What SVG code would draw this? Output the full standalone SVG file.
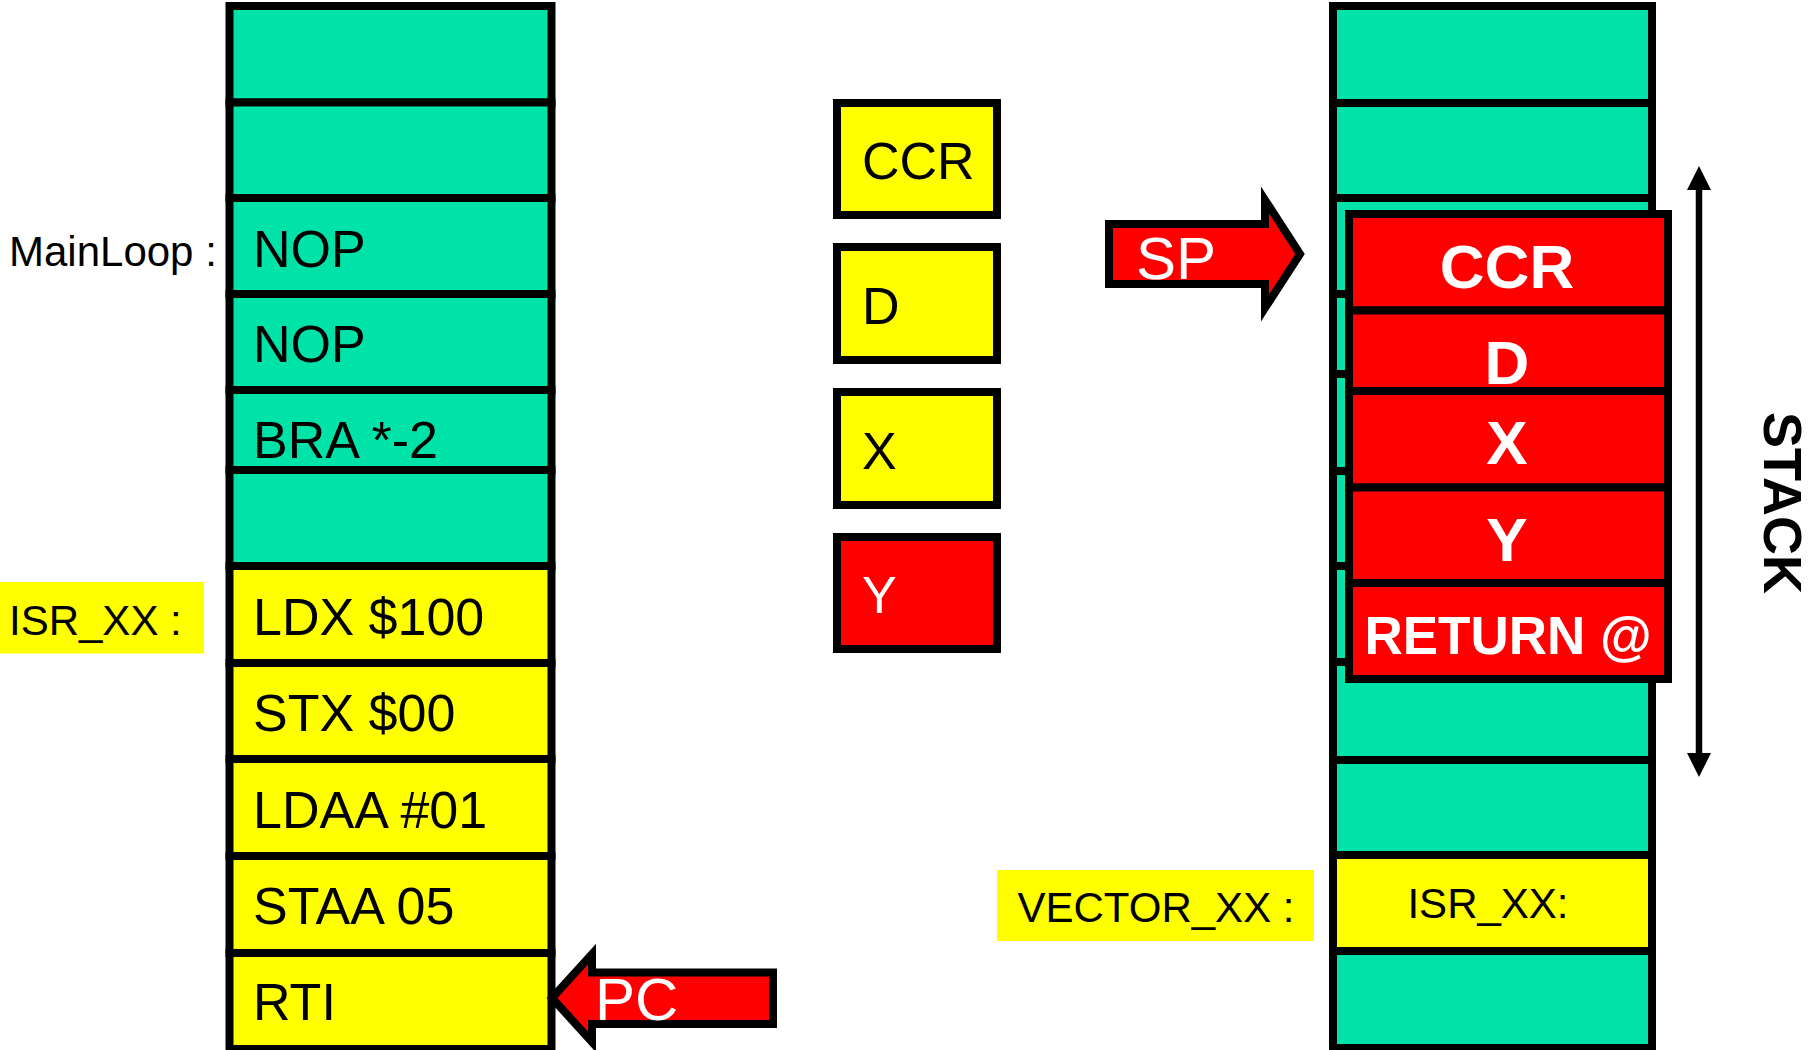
<svg xmlns="http://www.w3.org/2000/svg" width="1814" height="1050" viewBox="0 0 1814 1050">
<style>
text{font-family:"Liberation Sans",Arial,Helvetica,sans-serif;}
.g{fill:#00E3A8;stroke:#000;stroke-width:8;}
.y{fill:#FFFF00;stroke:#000;stroke-width:8;}
.r{fill:#FF0000;stroke:#000;stroke-width:8;}
.code{font-size:52px;fill:#000;}
.lbl{font-size:42px;fill:#000;}
.reg{font-size:52px;fill:#000;}
.stk{font-size:62px;font-weight:bold;fill:#fff;text-anchor:middle;}
.arw{fill:#FF0000;stroke:#000;stroke-width:8;stroke-linejoin:miter;stroke-miterlimit:10;}
.ptxt{font-size:60px;fill:#fff;}
</style>

<g id="program-memory">
  <rect class="g" x="229.5" y="6" width="322" height="96.5"/>
  <rect class="g" x="229.5" y="102.5" width="322" height="95.5"/>
  <rect class="g" x="229.5" y="198" width="322" height="96"/>
  <rect class="g" x="229.5" y="294" width="322" height="96"/>
  <rect class="g" x="229.5" y="390" width="322" height="80"/>
  <rect class="g" x="229.5" y="470" width="322" height="96"/>
  <rect class="y" x="229.5" y="566" width="322" height="97"/>
  <rect class="y" x="229.5" y="663" width="322" height="96"/>
  <rect class="y" x="229.5" y="759" width="322" height="97"/>
  <rect class="y" x="229.5" y="856" width="322" height="97"/>
  <rect class="y" x="229.5" y="953" width="322" height="96"/>
  <text class="code" x="253" y="267">NOP</text>
  <text class="code" x="253" y="362">NOP</text>
  <text class="code" x="253" y="458">BRA *-2</text>
  <text class="code" x="253" y="635">LDX $100</text>
  <text class="code" x="253" y="731">STX $00</text>
  <text class="code" x="253" y="828">LDAA #01</text>
  <text class="code" x="253" y="924">STAA 05</text>
  <text class="code" x="253" y="1020">RTI</text>
</g>

<g id="label-mainloop">
  <text class="lbl" x="9" y="266">MainLoop :</text>
</g>

<g id="label-isr">
  <rect x="0" y="582" width="204" height="71.5" fill="#FFFF00"/>
  <text class="lbl" x="9" y="634.5">ISR_XX :</text>
</g>

<g id="reg-ccr">
  <rect class="y" x="837" y="103" width="160" height="112"/>
  <text class="reg" x="862" y="179">CCR</text>
</g>
<g id="reg-d">
  <rect class="y" x="837" y="247" width="160" height="113"/>
  <text class="reg" x="862" y="323.5">D</text>
</g>
<g id="reg-x">
  <rect class="y" x="837" y="392" width="160" height="113"/>
  <text class="reg" x="862" y="468.5">X</text>
</g>
<g id="reg-y">
  <rect class="r" x="837" y="537" width="160" height="112"/>
  <text class="reg" x="862" y="613" style="fill:#fff">Y</text>
</g>

<g id="stack-memory">
  <rect class="g" x="1333" y="6" width="319" height="97"/>
  <rect class="g" x="1333" y="103" width="319" height="95"/>
  <rect class="g" x="1333" y="198" width="319" height="96"/>
  <rect class="g" x="1333" y="294" width="319" height="80"/>
  <rect class="g" x="1333" y="374" width="319" height="97"/>
  <rect class="g" x="1333" y="471" width="319" height="95"/>
  <rect class="g" x="1333" y="566" width="319" height="96"/>
  <rect class="g" x="1333" y="662" width="319" height="98"/>
  <rect class="g" x="1333" y="760" width="319" height="95"/>
  <rect class="y" x="1333" y="855" width="319" height="96"/>
  <rect class="g" x="1333" y="951" width="319" height="97"/>
  <text class="lbl" x="1488" y="918" text-anchor="middle">ISR_XX:</text>
</g>

<g id="stacked-registers">
  <rect class="r" x="1349" y="214" width="319" height="96.5"/>
  <rect class="r" x="1349" y="310.5" width="319" height="80.5"/>
  <rect class="r" x="1349" y="391" width="319" height="96.5"/>
  <rect class="r" x="1349" y="487.5" width="319" height="95.5"/>
  <rect class="r" x="1349" y="583" width="319" height="96"/>
  <text class="stk" x="1507" y="288">CCR</text>
  <text class="stk" x="1507" y="384">D</text>
  <text class="stk" x="1507" y="464">X</text>
  <text class="stk" x="1507" y="560.5">Y</text>
  <text class="stk" x="1508" y="654" style="font-size:53px">RETURN @</text>
</g>

<g id="label-vector">
  <rect x="997" y="870" width="317" height="71" fill="#FFFF00"/>
  <text class="lbl" x="1017.5" y="921.7">VECTOR_XX :</text>
</g>

<g id="label-stack">
  <text transform="translate(1764,503) rotate(90)" x="0" y="0" text-anchor="middle" style="font-size:54px;font-weight:bold;fill:#000">STACK</text>
</g>

<g id="connectors">
  <g id="sp-pointer">
    <polygon class="arw" points="1109,224 1265,224 1265,200 1300,254 1265,308 1265,284 1109,284"/>
    <text class="ptxt" x="1136" y="278.5">SP</text>
  </g>
  <g id="pc-pointer">
    <polygon class="arw" points="773,972.5 592,972.5 592,954 552,998 592,1042 592,1024 773,1024"/>
    <text class="ptxt" x="595" y="1020">PC</text>
  </g>
  <g id="stack-extent">
    <line x1="1699" y1="188" x2="1699" y2="756" stroke="#000" stroke-width="6.5"/>
    <polygon points="1699,166 1711,190 1687,190" fill="#000"/>
    <polygon points="1699,777 1711,753 1687,753" fill="#000"/>
  </g>
</g>
</svg>
